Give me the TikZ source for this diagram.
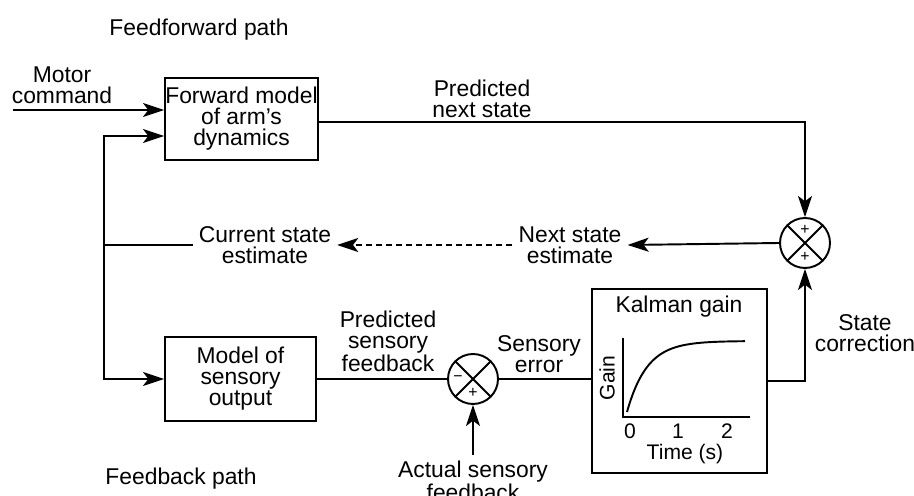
\documentclass[tikz,border=0pt]{standalone}
\usepackage{fontspec}
\setmainfont{Liberation Sans}
\usepackage{tikz}
\usetikzlibrary{arrows.meta}

\begin{document}
\begin{tikzpicture}[x=0.02cm,y=-0.02cm,
	every node/.style={black,font=\fontsize{13}{12}\selectfont,align=center},
	wire/.style={line width=1.1pt},
	flow/.style={line width=1.1pt,-{Stealth[length=12pt,width=8pt,inset=3pt]}},
	block/.style={draw,line width=1.1pt,inner sep=0pt},
	sumnode/.style={draw,circle,line width=1.1pt,minimum size=1cm,inner sep=0pt},
	sign/.style={font=\fontsize{9}{9}\selectfont,inner sep=0pt},
	axislabel/.style={font=\fontsize{12}{12}\selectfont,inner sep=0pt}]
	\useasboundingbox (0,0) rectangle (914,496);

	\node (ffpath) at (199,30) {Feedforward path};
	\node (fbpath) at (181,479) {Feedback path};

	\node[block,minimum width=3.06cm,minimum height=1.64cm] (fwd) at (241.5,119) {Forward model\\of arm's\\dynamics};
	\node[block,minimum width=3.02cm,minimum height=1.68cm] (sens) at (240.5,379) {Model of\\sensory\\output};
	\node[block,minimum width=3.5cm,minimum height=3.68cm] (kal) at (679.5,381) {};
	\node[sumnode] (sum1) at (805,243) {};
	\node[sumnode] (sum2) at (473,379) {};

	\node (mcmd) at (62,85) {Motor\\command};
	\node (pns) at (482,99) {Predicted\\next state};
	\node (nse) at (570,245) {Next state\\estimate};
	\node (cse) at (265,245) {Current state\\estimate};
	\node (psf) at (388,341) {Predicted\\sensory\\feedback};
	\node (serr) at (539,354) {Sensory\\error};
	\node (asf) at (473,481) {Actual sensory\\feedback};
	\node (scor) at (865,333) {State\\correction};

	% summing junctions
	\draw[wire] (sum1.north east) -- (sum1.south west) (sum1.north west) -- (sum1.south east);
	\draw[wire] (sum2.north east) -- (sum2.south west) (sum2.north west) -- (sum2.south east);
	\node[sign] at (805,230) {+};
	\node[sign] at (805,257) {+};
	\node[sign] at (458,379) {−};
	\node[sign] at (473,393) {+};

	% kalman gain curve
	\node (kaltitle) at (679,307) {Kalman gain};
	\draw[wire] (623,338) -- (623,417) -- (750,417);
	\draw[wire] plot[domain=0:118,samples=60,smooth] ({627+\x},{341+71*exp(-\x/20)});
	\node[axislabel] (t0) at (630,431) {0};
	\node[axislabel] (t1) at (678,431) {1};
	\node[axislabel] (t2) at (727,431) {2};
	\node[axislabel] (tlab) at (685,454) {Time (s)};
	\node[axislabel,rotate=90] (glab) at (607,378) {Gain};

	\coordinate (mc) at (13,110);
	\coordinate (jtop) at (104,136);
	\coordinate (jbot) at (104,379);
	\draw[flow] (mc) -- (mc -| fwd.west);
	\draw[flow] (jbot) -- (jtop) -- (jtop -| fwd.west);
	\draw[flow] (jtop) -- (jbot) -- (jbot -| sens.west);
	\draw[wire] (cse.west) -- (cse.west -| jtop);
	\draw[flow] ([yshift=-0.06cm]fwd.east) -| (sum1.north);
	\draw[flow] (sum1.west) -- (nse.east);
	\draw[flow,dash pattern=on 3.4pt off 2.3pt] (nse.west) -- (cse.east);
	\draw[wire] (sens.east) -- (sum2.west);
	\draw[wire] (sum2.east) -- (sum2.east -| kal.west);
	\draw[flow] (kal.east) -| (sum1.south);
	\draw[flow] (asf.north) -- (sum2.south);
\end{tikzpicture}
\end{document}
